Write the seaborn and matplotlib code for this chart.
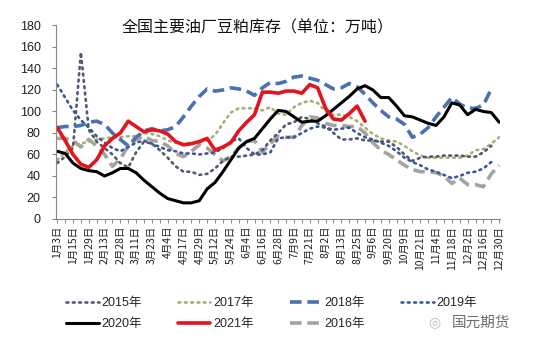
import numpy as np
import pandas as pd
import matplotlib
matplotlib.use("Agg")
import matplotlib.pyplot as plt
import seaborn as sns

# Weekly soybean-meal inventory at major oil mills (10k tonnes), one slot per week
tick_labels = ["1月3日", "1月15日", "1月29日", "2月13日", "2月28日", "3月11日", "3月23日",
               "4月4日", "4月17日", "4月29日", "5月12日", "5月24日", "6月4日", "6月16日",
               "6月28日", "7月9日", "7月21日", "8月2日", "8月13日", "8月25日", "9月6日",
               "9月20日", "10月9日", "10月21日", "11月4日", "11月18日", "12月2日",
               "12月16日", "12月30日"]

nan = np.nan
y2015 = [52, 58, 66, 155, 83, 72, 66, 60, 52, 48, 62, 72, 70, 64, 57, 49, 44, 44, 41, 42,
         47, 54, 58, 58, 59, 60, 64, 73, 80, 88, 90, 95, 93, 89, 86, 80, 74, 74, 75, 73,
         73, 72, 72, 67, 60, 54, 57, 58, 58, 59, 59, 59, 58, 58, 62, 68, nan]
y2017 = [55, 62, 68, 70, 72, 74, 75, 76, 76, 77, 77, 80, 79, 77, 73, 71, 70, 71, 72, 73,
         78, 89, 99, 103, 103, 103, 101, 104, 98, 97, 104, 108, 110, 108, 100, 97, 97, 95, 91, 85,
         79, 75, 73, 72, 68, 63, 59, 57, 57, 57, 57, 57, 59, 64, 65, 70, 76]
y2018 = [85, 86, 86, 87, 90, 91, 88, 80, 74, 68, 76, 82, 84, 82, 83, 86, 95, 105, 114, 121,
         119, 120, 122, 121, 119, 115, 122, 127, 126, 128, 132, 133, 131, 129, 125, 121, 122, 126, 123, 116,
         108, 101, 95, 93, 88, 76, 79, 85, 95, 104, 113, 107, 103, 103, 106, 121, nan]
y2019 = [125, 113, 101, 92, 85, 77, 71, 66, 63, 67, 71, 73, 70, 67, 64, 63, 61, 61, 60, 61,
         62, 66, 72, 75, 66, 60, 60, 62, 75, 76, 76, 80, 84, 86, 85, 83, 84, 85, 80, 76,
         74, 71, 68, 63, 57, 53, 50, 46, 44, 41, 38, 40, 43, 44, 47, 53, nan]
y2020 = [63, 61, 52, 47, 45, 44, 40, 43, 47, 47, 43, 36, 30, 24, 19, 17, 15, 15, 17, 28,
         34, 44, 55, 66, 72, 75, 84, 93, 101, 100, 95, 90, 91, 91, 96, 102, 108, 114, 121, 124,
         120, 113, 113, 105, 96, 95, 92, 89, 87, 95, 108, 106, 97, 102, 100, 99, 90]
y2021 = [85, 73, 60, 51, 48, 55, 68, 75, 80, 91, 86, 81, 83, 82, 79, 72, 69, 70, 72, 75,
         64, 67, 71, 82, 90, 97, 118, 118, 117, 119, 119, 117, 125, 122, 103, 93, 92, 98, 105, 91]
y2016 = [75, 75, 73, 67, 74, 68, 60, 49, 56, 68, 74, 77, 73, 72, 68, 61, 58, 63, 69, 66,
         60, 54, 58, 66, 72, 73, 62, 70, 77, 76, 76, 87, 95, 94, 89, 87, 87, 86, 86, 80,
         71, 64, 60, 55, 50, 46, 44, 44, 43, 40, 33, 38, 32, 32, 30, 42, 50]

n_weeks = len(y2020)
week = np.arange(n_weeks)

dotted = (0, (0.7, 1.7))
dashed = (0, (3.2, 1.6))
series = [
    ("2015年", y2015, dict(color="#4E5A6E", lw=1.9, linestyle=dotted, dash_capstyle="round")),
    ("2020年", y2020, dict(color="#000000", lw=2.2, linestyle="-")),
    ("2017年", y2017, dict(color="#A9AE78", lw=1.9, linestyle=dotted, dash_capstyle="round")),
    ("2021年", y2021, dict(color="#E3141E", lw=2.6, linestyle="-")),
    ("2018年", y2018, dict(color="#4A72B2", lw=2.6, linestyle=dashed)),
    ("2016年", y2016, dict(color="#A3A3A3", lw=2.6, linestyle=dashed)),
    ("2019年", y2019, dict(color="#3A5896", lw=1.9, linestyle=dotted, dash_capstyle="round")),
]

sns.set_theme(style="white")
plt.rcParams["font.family"] = ["Liberation Sans", "Noto Sans CJK SC", "DejaVu Sans"]

fig = plt.figure(figsize=(5.36, 3.44), dpi=100)
ax = fig.add_axes([0.1045, 0.3634, 0.8283, 0.5625])

draw_order = ["2016年", "2017年", "2019年", "2015年", "2018年", "2020年", "2021年"]
lookup = {name: (vals, style) for name, vals, style in series}
for name in draw_order:
    vals, style = lookup[name]
    vals = np.asarray(vals, dtype=float)
    df = pd.DataFrame({"week": week[:len(vals)], "value": vals}).dropna()
    sns.lineplot(data=df, x="week", y="value", ax=ax, label=name, **style)

ax.set_ylim(0, 180)
ax.set_yticks(np.arange(0, 181, 20))
ax.set_xlim(-0.15, n_weeks - 0.9)
ax.set_xticks(np.arange(0, n_weeks, 2))
ax.set_xticks(np.arange(0, n_weeks, 1), minor=True)
ax.set_xticklabels(tick_labels, rotation=90, fontsize=7.5,
                   family=["Noto Sans CJK SC", "DejaVu Sans"])
ax.set_xlabel("")
ax.set_ylabel("")
ax.tick_params(axis="y", labelsize=9, length=3, width=0.8, color="#888888",
               left=True, pad=8, labelcolor="#222222")
ax.tick_params(axis="x", which="both", length=3, width=0.7, color="#888888",
               bottom=True, pad=2, labelcolor="#222222")

for side in ("top", "right"):
    ax.spines[side].set_visible(False)
for side in ("left", "bottom"):
    ax.spines[side].set_color("#888888")
    ax.spines[side].set_linewidth(0.8)

fig.text(0.48, 0.918, "全国主要油厂豆粕库存（单位：万吨）", ha="center", va="center",
         fontsize=11.5, family=["Noto Sans CJK SC", "DejaVu Sans"], color="#111111")

handles, labels = ax.get_legend_handles_labels()
ax.get_legend().remove()
hmap = dict(zip(labels, handles))
legend_order = ["2015年", "2020年", "2017年", "2021年", "2018年", "2016年", "2019年"]
fig.legend([hmap[k] for k in legend_order], legend_order, ncol=4, frameon=False,
           loc="center left", bbox_to_anchor=(0.107, 0.088), handlelength=2.6,
           handletextpad=0.2, columnspacing=2.9, labelspacing=0.72, borderpad=0.2,
           prop={"family": ["Liberation Sans", "Noto Sans CJK SC"], "size": 9})

fig.text(0.898, 0.062, "国元期货", ha="center", va="center", fontsize=10.5,
         family=["Noto Sans CJK SC", "DejaVu Sans"], color="#6E6E6E")
fig.text(0.81, 0.062, "◎", ha="center", va="center", fontsize=10,
         family=["DejaVu Sans"], color="#BBBBBB")

fig.savefig("out.png", dpi=100)
